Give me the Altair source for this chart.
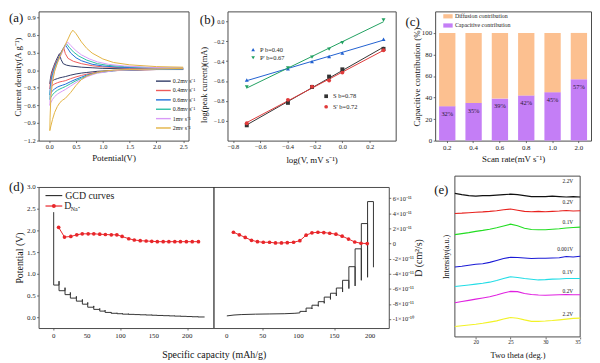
import altair as alt
import pandas as pd

SERIF = "Liberation Serif"
INK = "#222222"
FRAME = "#4a4a4a"

# ================= (a) CV curves =================
cv_labels = ["0.2mv s⁻¹", "0.4mv s⁻¹", "0.6mv s⁻¹", "0.8mv s⁻¹", "1mv s⁻¹", "2mv s⁻¹"]
cv_colors = ["#2f3a66", "#ee5a5a", "#1e6fd9", "#2bbfa4", "#d89af7", "#e3b342"]
cv_lower_v = [2.5, 2.0, 1.5, 1.2, 1.0, 0.9, 0.8, 0.7, 0.6, 0.5, 0.4, 0.3, 0.25, 0.2, 0.15, 0.1, 0.06, 0.03, 0.01]
cv_lower_i = [
    [0.01, 0.01, 0.0, -0.005, -0.015, -0.02, -0.03, -0.04, -0.05, -0.065, -0.085, -0.11, -0.12, -0.13, -0.145, -0.16, -0.18, -0.2, -0.23],
    [0.015, 0.01, 0.0, -0.01, -0.025, -0.035, -0.05, -0.07, -0.09, -0.115, -0.145, -0.18, -0.19, -0.2, -0.215, -0.235, -0.26, -0.29, -0.32],
    [0.02, 0.015, 0.005, -0.01, -0.03, -0.04, -0.06, -0.085, -0.12, -0.155, -0.195, -0.24, -0.255, -0.27, -0.29, -0.32, -0.35, -0.39, -0.42],
    [0.02, 0.015, 0.005, -0.01, -0.035, -0.045, -0.07, -0.1, -0.14, -0.18, -0.23, -0.28, -0.3, -0.32, -0.345, -0.38, -0.42, -0.46, -0.5],
    [0.025, 0.02, 0.005, -0.01, -0.04, -0.05, -0.08, -0.115, -0.16, -0.21, -0.27, -0.33, -0.355, -0.38, -0.41, -0.45, -0.5, -0.55, -0.6],
    [0.03, 0.02, 0.01, 0.0, -0.02, -0.04, -0.065, -0.1, -0.16, -0.26, -0.38, -0.48, -0.51, -0.55, -0.62, -0.72, -0.84, -0.95, -1.03],
]
cv_upper_v = [
    [0.01, 0.02, 0.04, 0.08, 0.12, 0.16, 0.19, 0.22, 0.26, 0.32, 0.4, 0.6, 0.8, 1.0, 1.5, 2.0, 2.5],
    [0.01, 0.02, 0.05, 0.1, 0.15, 0.2, 0.24, 0.27, 0.3, 0.35, 0.45, 0.6, 0.8, 1.0, 1.5, 2.0, 2.5],
    [0.01, 0.02, 0.05, 0.1, 0.15, 0.2, 0.25, 0.3, 0.35, 0.4, 0.5, 0.6, 0.8, 1.0, 1.3, 1.6, 2.0, 2.5],
    [0.01, 0.02, 0.05, 0.1, 0.15, 0.2, 0.25, 0.32, 0.37, 0.45, 0.55, 0.7, 0.9, 1.1, 1.4, 1.8, 2.2, 2.5],
    [0.01, 0.02, 0.05, 0.1, 0.15, 0.2, 0.27, 0.34, 0.4, 0.5, 0.6, 0.75, 0.9, 1.1, 1.4, 1.8, 2.2, 2.5],
    [0.01, 0.015, 0.03, 0.06, 0.1, 0.15, 0.2, 0.27, 0.35, 0.4, 0.44, 0.5, 0.6, 0.7, 0.8, 1.0, 1.2, 1.5, 2.0, 2.5],
]
cv_upper_i = [
    [-0.23, -0.15, -0.05, 0.06, 0.15, 0.23, 0.28, 0.18, 0.11, 0.085, 0.07, 0.05, 0.04, 0.03, 0.02, 0.02, 0.02],
    [-0.32, -0.2, -0.05, 0.08, 0.18, 0.27, 0.34, 0.38, 0.28, 0.2, 0.15, 0.11, 0.075, 0.055, 0.035, 0.025, 0.02],
    [-0.42, -0.28, -0.1, 0.05, 0.16, 0.26, 0.35, 0.43, 0.36, 0.29, 0.21, 0.16, 0.1, 0.07, 0.05, 0.04, 0.03, 0.03],
    [-0.5, -0.35, -0.14, 0.03, 0.14, 0.24, 0.34, 0.45, 0.39, 0.31, 0.24, 0.17, 0.11, 0.08, 0.06, 0.045, 0.035, 0.035],
    [-0.6, -0.42, -0.18, 0.0, 0.12, 0.22, 0.36, 0.48, 0.42, 0.33, 0.26, 0.19, 0.14, 0.1, 0.07, 0.05, 0.04, 0.04],
    [-1.03, -0.8, -0.45, -0.2, -0.02, 0.12, 0.24, 0.38, 0.53, 0.63, 0.68, 0.62, 0.48, 0.37, 0.29, 0.19, 0.13, 0.09, 0.06, 0.05],
]
a_xticks = [0, 0.5, 1.0, 1.5, 2.0, 2.5]
a_yticks = [-1.2, -0.9, -0.6, -0.3, 0, 0.3, 0.6, 0.9]

# ================= (b) log i vs log v =================
b_x = [-0.699, -0.398, -0.222, -0.097, 0.0, 0.301]
b_series = ["P", "P'", "S", "S'"]
b_vals = [
    [-0.59, -0.477, -0.405, -0.353, -0.32, -0.18],
    [-0.66, -0.47, -0.36, -0.28, -0.216, 0.013],
    [-1.046, -0.82, -0.66, -0.556, -0.483, -0.277],
    [-1.026, -0.79, -0.657, -0.595, -0.516, -0.29],
]
b_legend = ["P  b=0.40", "P' b=0.67", "S  b=0.78", "S' b=0.72"]
b_colors = ["#2060d0", "#20a060", "#333333", "#e03a3a"]
b_shapes = ["triangle-up", "triangle-down", "square", "circle"]
b_xticks = [-0.8, -0.6, -0.4, -0.2, 0.0, 0.2]
b_yticks = [-1.0, -0.8, -0.6, -0.4, -0.2, 0.0]

# ================= (c) capacitive contribution =================
c_rates = ["0.2", "0.4", "0.6", "0.8", "1.0", "2.0"]
c_cap = [32, 35, 39, 42, 45, 57]
c_diff = [68, 65, 61, 58, 55, 43]
c_pct = ["32%", "35%", "39%", "42%", "45%", "57%"]
c_parts = ["Diffusion contribution", "Capacitive contribution"]
c_colors = ["#fcc090", "#c47ef6"]
c_yticks = [0, 20, 40, 60, 80, 100]

# ================= (d) GITT =================
d_split = 240.0      # end of left panel axis = start of right panel axis
d_right_start = -18.0
d_right_k = 1.073    # right panel px-per-unit relative to left panel
gcd_dis_ocv = 2.42
gcd_dis_x = [0, 8, 17, 25, 34, 43, 51, 60, 69, 77, 86, 95, 103, 112, 121, 129, 138, 147, 155, 164, 173, 181, 190, 199, 207, 216, 226]
gcd_dis_level = [0.74, 0.61, 0.52, 0.44, 0.37, 0.30, 0.23, 0.18, 0.14, 0.11, 0.09, 0.08, 0.07, 0.065, 0.06, 0.055, 0.05, 0.045, 0.04, 0.035, 0.03, 0.025, 0.02, 0.015, 0.01, 0.005]
gcd_dis_relax = [0.83, 0.68, 0.57, 0.48, 0.41, 0.34, 0.26, 0.2, 0.16, 0.12, 0.1, 0.09, 0.08, 0.07, 0.065, 0.06, 0.055, 0.05, 0.045, 0.04, 0.035, 0.03, 0.025, 0.02, 0.015]
gcd_ch_flat_x = [0, 10, 20, 40, 60, 80, 95, 102]
gcd_ch_flat_v = [0.03, 0.05, 0.06, 0.07, 0.075, 0.08, 0.09, 0.1]
gcd_ch_x = [102, 110.6, 118.8, 127.6, 135.9, 144.6, 152.8, 161.5, 170.3, 179, 187.7, 196.4, 204.6]
gcd_ch_level = [0.134, 0.21, 0.276, 0.358, 0.463, 0.552, 0.672, 0.85, 1.164, 1.575, 2.157, 2.664]
gcd_ch_relax = [0.12, 0.19, 0.25, 0.32, 0.41, 0.49, 0.58, 0.66, 0.72, 0.85, 0.92, 1.15]
dna_left_x = [7.4, 16.2, 25.7, 34.6, 42.8, 51.7, 60.1, 69, 77.4, 86.3, 94.6, 102.5, 112.4, 120.7, 129.6, 138.5, 146.9, 155.2, 164, 172.5, 181.4, 189.8, 198.7, 207.5, 216.8]
dna_left_d = [2.15, 0.86, 0.94, 1.16, 1.29, 1.29, 1.29, 1.24, 1.2, 1.16, 1.16, 0.94, 0.64, 0.47, 0.38, 0.34, 0.3, 0.25, 0.25, 0.25, 0.25, 0.25, 0.25, 0.25, 0.25]
dna_right_x = [9.2, 17.4, 25.7, 34.4, 42.7, 50.9, 59.6, 67.9, 76.2, 84.4, 93.1, 101.9, 110.6, 118.8, 127.1, 135.3, 143.6, 152.3, 161, 169.8, 178.5, 187.2, 195.9]
dna_right_d = [1.5, 1.16, 0.81, 0.43, 0.25, 0.17, 0.17, 0.08, 0.08, 0.12, 0.17, 0.38, 1.11, 1.42, 1.5, 1.46, 1.37, 1.24, 0.98, 0.6, 0.21, 0.04, 0.0]
d_xticks = [0, 50, 100, 150, 200]
d_pot_ticks = [0, 0.5, 1.0, 1.5, 2.0, 2.5, 3.0]
d_D_ticks = [-10, -8, -6, -4, -2, 0, 2, 4, 6]   # in 1e-11 cm2/s

# ================= (e) XRD =================
e_x = [17, 18, 19, 20, 21, 22, 23, 24, 25, 26, 27, 28, 29, 30, 31, 32, 33, 34, 35]
e_curves = [
    [147.3, 146, 145, 144.5, 145, 145, 145.5, 146, 146.5, 146, 145, 144, 144, 144, 144.5, 144, 143.5, 144, 143.5],
    [126.7, 127, 127.5, 128, 128.3, 128.8, 129.5, 130.5, 131.2, 130, 128.8, 128.5, 128.8, 128.5, 128.8, 129.2, 129.8, 129.3, 129.5],
    [105, 106, 107, 108.3, 109.3, 110.5, 112, 113.8, 115.7, 114, 111.5, 110.3, 110, 110, 110.5, 111, 111.8, 112.3, 112.7],
    [71.7, 72.5, 73.5, 74.5, 75, 76.5, 78.5, 80.5, 81.7, 81.5, 81, 80.5, 80.7, 80.7, 81, 81.3, 82.5, 82, 82.7],
    [51.7, 52.5, 53.3, 54.2, 55, 56.2, 58, 60, 61.7, 61, 60, 59.2, 58.5, 58.8, 59.3, 59.5, 60, 60, 60],
    [35, 36.3, 37.5, 38.8, 40, 41.3, 43, 45, 46.7, 46.5, 44.5, 43.5, 43, 42.7, 43, 43.2, 43.5, 43.3, 43.3],
    [10.7, 11.5, 12.3, 13, 14, 15.2, 16.5, 18.3, 20, 19.2, 17.5, 16, 16, 16.3, 16.8, 17.5, 18.3, 19, 19.3],
]
e_labels = ["2.2V", "0.2V", "0.1V", "0.001V", "0.1V", "0.2V", "2.2V"]
e_label_y = [160, 138.3, 118, 90, 66.7, 46.7, 24]
e_colors = ["#111111", "#e8221e", "#22dd22", "#1a1ad6", "#22dde6", "#e020e0", "#f2f226"]
e_xticks = [20, 25, 30, 35]


def one(**kw):
    return pd.DataFrame({k: [v] for k, v in kw.items()})


def panel_label(txt, x, y):
    return alt.Chart(one(t=txt)).mark_text(
        align="left", baseline="middle", font=SERIF, fontSize=13, color="#111"
    ).encode(x=alt.value(x), y=alt.value(y), text="t:N")


def small_text(txt, x, y, size=6, align="left", color=INK):
    return alt.Chart(one(t=txt)).mark_text(
        align=align, baseline="middle", font=SERIF, fontSize=size, color=color
    ).encode(x=alt.value(x), y=alt.value(y), text="t:N")


# ---------- chart (a) ----------
A_W, A_H = 152, 131
rows = []
for k, lab in enumerate(cv_labels):
    pts = list(zip(cv_lower_v, cv_lower_i[k])) + list(zip(cv_upper_v[k], cv_upper_i[k]))
    for o, (v, i) in enumerate(pts):
        rows.append({"s": lab, "V": v, "I": i, "o": o})
df_a = pd.DataFrame(rows)

a_lines = alt.Chart(df_a).mark_line(strokeWidth=1).encode(
    x=alt.X("V:Q", scale=alt.Scale(domain=[-0.2, 2.6], nice=False, zero=False),
            axis=alt.Axis(values=a_xticks, format=".1f", title="Potential(V)",
                          titleX=A_W / 2, titleY=17)),
    y=alt.Y("I:Q", scale=alt.Scale(domain=[-1.2, 1.0], nice=False, zero=False),
            axis=alt.Axis(values=a_yticks, format=".1f", title="Current density(A g⁻¹)",
                          titleX=-21, titleY=66)),
    color=alt.Color("s:N", scale=alt.Scale(domain=cv_labels, range=cv_colors), legend=None),
    order="o:Q",
)
a_layers = [a_lines]
for k, lab in enumerate(cv_labels):
    yy = 70.7 + 9.5 * k
    a_layers.append(alt.Chart(one(t=lab)).mark_rule(color=cv_colors[k], strokeWidth=1.4).encode(
        x=alt.value(119), x2=alt.value(134), y=alt.value(yy)))
    a_layers.append(small_text(lab, 136, yy, size=6))
a_layers.append(panel_label("(a)", -30, 7))
chart_a = alt.layer(*a_layers).properties(width=A_W, height=A_H)

# ---------- chart (b) ----------
B_W, B_H = 170.5, 131
rows = []
for k, s in enumerate(b_series):
    for x, y in zip(b_x, b_vals[k]):
        rows.append({"s": s, "x": x, "y": y})
df_b = pd.DataFrame(rows)
bx = alt.X("x:Q", scale=alt.Scale(domain=[-0.84, 0.39], nice=False, zero=False),
           axis=alt.Axis(values=b_xticks, format=".1f", title="log(V, mV s⁻¹)", titleX=B_W / 2, titleY=19))
by = alt.Y("y:Q", scale=alt.Scale(domain=[-1.2, 0.1], nice=False, zero=False),
           axis=alt.Axis(values=b_yticks, format=".1f", title="log(peak current)(mA)", titleX=-24, titleY=74,
                         titleFontSize=8.5, labelFontSize=6))
b_color = alt.Color("s:N", scale=alt.Scale(domain=b_series, range=b_colors), legend=None)
b_fit = alt.Chart(df_b).transform_regression("x", "y", groupby=["s"]).mark_line(strokeWidth=1).encode(
    x=bx, y=by, color=b_color)
b_pts = alt.Chart(df_b).mark_point(filled=True, size=16, opacity=1).encode(
    x=bx, y=by, color=b_color,
    shape=alt.Shape("s:N", scale=alt.Scale(domain=b_series, range=b_shapes), legend=None))
b_layers = [b_fit, b_pts]
b_leg_pos = [(26, 38.7), (26, 47), (100, 86), (100, 96.7)]
for k, lab in enumerate(b_legend):
    px, py = b_leg_pos[k]
    b_layers.append(alt.Chart(one(t=lab)).mark_point(filled=True, size=14, opacity=1, color=b_colors[k],
                                                     shape=b_shapes[k]).encode(x=alt.value(px), y=alt.value(py)))
    b_layers.append(small_text(lab, px + 7, py, size=6.5))
b_layers.append(panel_label("(b)", -28, 9))
chart_b = alt.layer(*b_layers).properties(width=B_W, height=B_H)

# ---------- chart (c) ----------
C_W, C_H = 158, 131
rows = []
for r, cv, dv in zip(c_rates, c_cap, c_diff):
    rows.append({"rate": r, "part": c_parts[1], "val": cv, "ord": 0})
    rows.append({"rate": r, "part": c_parts[0], "val": dv, "ord": 1})
df_c = pd.DataFrame(rows)
cx = alt.X("rate:N", sort=c_rates, scale=alt.Scale(paddingInner=0.38, paddingOuter=0.15),
           axis=alt.Axis(labelAngle=0, title="Scan rate(mV s⁻¹)", titleX=C_W / 2, titleY=18, labelFontSize=7))
cy = alt.Y("val:Q", scale=alt.Scale(domain=[0, 120], nice=False, zero=False),
           axis=alt.Axis(values=c_yticks, title="Capacitive contribution (%)", titleX=-19, titleY=66, labelFontSize=7))
c_bars = alt.Chart(df_c).mark_bar().encode(
    x=cx, y=alt.Y("val:Q", stack="zero", scale=alt.Scale(domain=[0, 120], nice=False, zero=False),
                  axis=alt.Axis(values=c_yticks, title="Capacitive contribution (%)", titleX=-19, titleY=66,
                                labelFontSize=7)),
    color=alt.Color("part:N", scale=alt.Scale(domain=c_parts, range=c_colors),
                    legend=alt.Legend(orient="none", legendX=8, legendY=0, title=None, direction="vertical",
                                      symbolType="M-1,-0.45L1,-0.45L1,0.45L-1,0.45Z", symbolSize=90,
                                      symbolStrokeWidth=0, labelFontSize=6, labelFont=SERIF, labelColor=INK,
                                      rowPadding=1.3, labelOffset=2, padding=0)),
    order=alt.Order("ord:Q"),
)
c_txt = alt.Chart(pd.DataFrame({"rate": c_rates, "val": c_cap, "lab": c_pct})).mark_text(
    dy=8, font=SERIF, fontSize=6.5, color="#2a1a38").encode(x=cx, y=cy, text="lab:N")
chart_c = alt.layer(c_bars, c_txt, panel_label("(c)", -30, 11)).properties(width=C_W, height=C_H)


# ---------- chart (d) ----------
def xr(v):
    return d_split + (v - d_right_start) * d_right_k


D_W, D_H = 355, 143
rows = [{"seg": "dis", "o": 0, "xs": 0, "V": gcd_dis_ocv}]
n = 1
for i in range(len(gcd_dis_level)):
    rows.append({"seg": "dis", "o": n, "xs": gcd_dis_x[i], "V": gcd_dis_level[i]}); n += 1
    rows.append({"seg": "dis", "o": n, "xs": gcd_dis_x[i + 1], "V": gcd_dis_level[i]}); n += 1
    if i < len(gcd_dis_relax):
        rows.append({"seg": "dis", "o": n, "xs": gcd_dis_x[i + 1], "V": gcd_dis_relax[i]}); n += 1
n = 0
for x, v in zip(gcd_ch_flat_x, gcd_ch_flat_v):
    rows.append({"seg": "ch", "o": n, "xs": xr(x), "V": v}); n += 1
for i in range(len(gcd_ch_level)):
    rows.append({"seg": "ch", "o": n, "xs": xr(gcd_ch_x[i]), "V": gcd_ch_level[i]}); n += 1
    rows.append({"seg": "ch", "o": n, "xs": xr(gcd_ch_x[i + 1]), "V": gcd_ch_level[i]}); n += 1
    rows.append({"seg": "ch", "o": n, "xs": xr(gcd_ch_x[i + 1]), "V": gcd_ch_relax[i]}); n += 1
df_gcd = pd.DataFrame(rows)

rows = [{"half": "L", "xs": x, "D": d} for x, d in zip(dna_left_x, dna_left_d)]
rows += [{"half": "R", "xs": xr(x), "D": d} for x, d in zip(dna_right_x, dna_right_d)]
df_dna = pd.DataFrame(rows)

d_tick_vals = d_xticks + [xr(v) for v in d_xticks]
d_tick_labs = [str(v) for v in d_xticks] * 2
X_d = alt.X("xs:Q", scale=alt.Scale(domain=[-22.6, xr(226)], nice=False, zero=False),
            axis=alt.Axis(values=d_tick_vals, labels=False,
                          title="Specific capacity (mAh/g)", titleX=D_W / 2, titleY=27, titleFontSize=10))
Y_pot = alt.Y("V:Q", scale=alt.Scale(domain=[-0.25, 3.0], nice=False, zero=False),
              axis=alt.Axis(values=d_pot_ticks, format=".1f", title="Potential (V)", titleX=-19,
                            titleY=D_H / 2, labelFontSize=7, titleFontSize=10))
Y_D = alt.Y("D:Q", scale=alt.Scale(domain=[-11.2, 7.5], nice=False, zero=False),
            axis=alt.Axis(orient="right", values=d_D_ticks, labelOverlap=False,
                          labelExpr="datum.value == 0 ? '0' : (datum.value == -10 ? '-1×10⁻¹⁰' : datum.value + '×10⁻¹¹')",
                          title="D (cm²/s)", titleX=30, titleY=D_H / 2, titleAngle=270,
                          labelFontSize=6.5, titleFontSize=10))
RED = "#e8262a"
d_gcd = alt.Chart(df_gcd).mark_line(color="#333333", strokeWidth=1).encode(
    x=X_d, y=Y_pot, detail="seg:N", order="o:Q")
d_div = alt.Chart(one(xs=d_split)).mark_rule(color="#333333", strokeWidth=1.3).encode(x=alt.X("xs:Q"))
d_xlab = alt.Chart(pd.DataFrame({"xs": d_tick_vals, "lab": d_tick_labs})).mark_text(
    baseline="top", font=SERIF, fontSize=7, color=INK).encode(
    x=alt.X("xs:Q"), y=alt.value(D_H + 4.5), text="lab:N")
d_left_layers = [d_gcd, d_div, d_xlab,
                 alt.Chart(one(t="g")).mark_rule(color="#333333", strokeWidth=1.2).encode(
                     x=alt.value(7), x2=alt.value(24), y=alt.value(8.7)),
                 small_text("GCD curves", 27, 8.7, size=10),
                 alt.Chart(one(t="d")).mark_rule(color=RED, strokeWidth=1.2).encode(
                     x=alt.value(7), x2=alt.value(24), y=alt.value(19.3)),
                 alt.Chart(one(t="d")).mark_point(filled=True, size=16, opacity=1, color=RED).encode(
                     x=alt.value(15.5), y=alt.value(19.3)),
                 small_text("D", 26, 19.3, size=10),
                 small_text("Na⁺", 32.5, 22, size=6),
                 panel_label("(d)", -30, 0)]
d_line = alt.Chart(df_dna).mark_line(
    color=RED, strokeWidth=1,
    point=alt.OverlayMarkDef(filled=True, size=14, color=RED, opacity=1)).encode(
    x=X_d, y=Y_D, detail="half:N")
chart_d = alt.layer(alt.layer(*d_left_layers), d_line).resolve_scale(y="independent").properties(
    width=D_W, height=D_H)

# ---------- chart (e) ----------
E_W, E_H = 127, 143
rows = []
for k, cur in enumerate(e_curves):
    for x, y in zip(e_x, cur):
        rows.append({"id": f"c{k}", "x": x, "y": y})
df_e = pd.DataFrame(rows)
e_ids = [f"c{k}" for k in range(len(e_curves))]
X_e = alt.X("x:Q", scale=alt.Scale(domain=[17, 35], nice=False, zero=False),
            axis=alt.Axis(values=e_xticks, format="d", offset=9, title="Two theta (deg.)",
                          titleX=E_W / 2, titleY=17.5, labelFontSize=5.5, labelPadding=1, titleFontSize=8.5))
Y_e = alt.Y("y:Q", scale=alt.Scale(domain=[0, 165], range=[E_H + 9, -11], nice=False, zero=False),
            axis=alt.Axis(labels=False, ticks=False, title="Intensity(a.u.)", titleX=-8,
                          titleY=(E_H - 2) / 2, titleFontSize=8))
e_frame = alt.Chart(pd.DataFrame({"x": [17], "x_end": [35], "y": [0], "y_end": [165]})).mark_rect(
    fill="transparent", stroke=FRAME, strokeWidth=1).encode(x=X_e, x2="x_end:Q", y=Y_e, y2="y_end:Q")
e_lines = alt.Chart(df_e).mark_line(strokeWidth=1.1).encode(
    x=X_e, y=Y_e, color=alt.Color("id:N", scale=alt.Scale(domain=e_ids, range=e_colors), legend=None))
e_txt = alt.Chart(pd.DataFrame({"lab": e_labels, "y": e_label_y})).mark_text(
    align="right", baseline="middle", font=SERIF, fontSize=5.5, color=INK).encode(
    x=alt.value(120), y=Y_e, text="lab:N")
chart_e = alt.layer(e_frame, e_lines, e_txt, panel_label("(e)", -21, 3)).properties(
    width=E_W, height=E_H, view=alt.ViewBackground(stroke="transparent"))

row1 = alt.hconcat(chart_a, chart_b, chart_c, spacing=39.5, bounds="flush").resolve_scale(
    color="independent", shape="independent")
row2 = alt.hconcat(chart_d, chart_e, spacing=67, bounds="flush").resolve_scale(
    color="independent", shape="independent")

chart = alt.vconcat(row1, row2, spacing=10).resolve_scale(
    color="independent", shape="independent").properties(padding=0, background="white").configure_axis(
    domain=False, grid=False, ticks=True, tickSize=2, tickColor=FRAME, tickWidth=0.8,
    labelFont=SERIF, labelFontSize=6.5, labelColor=INK, labelPadding=1.5, labelOverlap=False,
    titleFont=SERIF, titleFontSize=9, titleFontWeight="normal", titleColor="#111",
    titleBaseline="middle", titleAlign="center",
).configure_view(stroke=FRAME, strokeWidth=1).configure_text(font=SERIF)

chart.save("out.html", embed_options={"renderer": "svg", "actions": False})
